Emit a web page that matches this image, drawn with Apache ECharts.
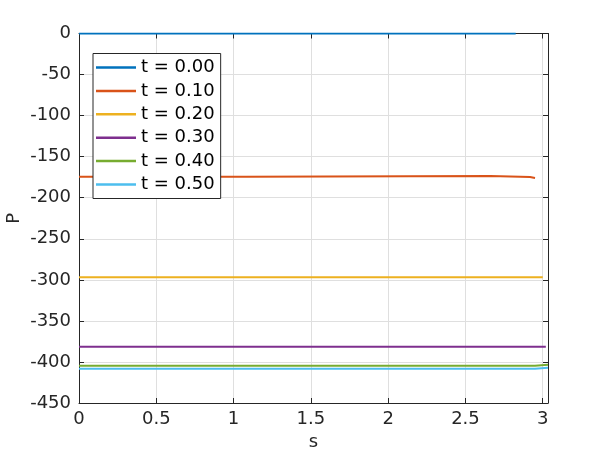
<!DOCTYPE html>
<html>
<head>
<meta charset="utf-8">
<script src="https://cdn.jsdelivr.net/npm/echarts@6/dist/echarts.min.js"></script>
<style>
  html, body { margin: 0; padding: 0; background: #fff; }
  #chart { width: 605px; height: 454px; }
</style>
</head>
<body>
<div id="chart"></div>
<script>
  // series names (legend)
  const names = ['t = 0.00', 't = 0.10', 't = 0.20', 't = 0.30', 't = 0.40', 't = 0.50'];
  const colors = ['#0072BD', '#D95319', '#EDB120', '#7E2F8E', '#77AC30', '#4DBEEE'];

  // s / P values, one pair of arrays per curve
  const s0 = [0, 2.825];
  const p0 = [0, 0];
  const s1 = [0, 1.082, 1.082, 2.66, 2.66, 2.918, 2.918, 2.95];
  const p1 = [-174.4, -174.4, -173.5, -173.5, -174.8, -174.8, -176.0, -176.0];
  const s2 = [0, 3.0];
  const p2 = [-297, -297];
  const s3 = [0, 3.02];
  const p3 = [-381.5, -381.5];
  const s4 = [0, 2.95, 2.95, 3.034];
  const p4 = [-404.6, -404.6, -403.4, -403.4];
  const s5 = [0, 2.95, 2.95, 3.034];
  const p5 = [-408.2, -408.2, -407.0, -407.0];

  const xTicks = [0, 0.5, 1, 1.5, 2, 2.5, 3];
  const xMax = 3.034;
  const yMin = -450, yMax = 0, yStep = 50;

  const allS = [s0, s1, s2, s3, s4, s5];
  const allP = [p0, p1, p2, p3, p4, p5];

  function pairs(s, p) {
    return s.map((v, i) => [v, p[i]]);
  }

  const font = 'DejaVu Sans';
  const axisCol = '#262626';

  const chart = echarts.init(document.getElementById('chart'));

  const tickFmt = (v) => {
    for (let i = 0; i < xTicks.length; i++) {
      if (Math.abs(v - xTicks[i]) < 1e-6) return String(xTicks[i]);
    }
    return '';
  };

  const baseX = {
    type: 'value',
    min: 0,
    max: xMax,
    interval: 0.5,
    axisLine: { show: true, onZero: false, lineStyle: { color: axisCol, width: 1 } },
    axisTick: { show: true, inside: true, length: 5, lineStyle: { color: axisCol } },
    splitLine: { show: true, lineStyle: { color: '#dfdfdf', width: 1 } },
  };
  const baseY = {
    type: 'value',
    min: yMin,
    max: yMax,
    interval: yStep,
    axisLine: { show: true, onZero: false, lineStyle: { color: axisCol, width: 1 } },
    axisTick: { show: true, inside: true, length: 5, lineStyle: { color: axisCol } },
    splitLine: { show: true, lineStyle: { color: '#dfdfdf', width: 1 } },
  };

  const option = {
    animation: false,
    backgroundColor: '#fff',
    textStyle: { fontFamily: font },
    grid: { left: 79, right: 57, top: 33.5, bottom: 51, containLabel: false, outerBoundsMode: 'none' },
    legend: {
      data: names,
      orient: 'vertical',
      left: 93,
      top: 53.5,
      icon: 'rect',
      itemWidth: 40,
      itemHeight: 2.5,
      itemGap: 3.4,
      padding: [4, 6, 4, 3],
      backgroundColor: '#fff',
      borderColor: axisCol,
      borderWidth: 1,
      borderRadius: 0,
      z: 10,
      textStyle: { fontFamily: font, fontSize: 18, color: '#000', lineHeight: 20 },
    },
    xAxis: [
      Object.assign({}, baseX, {
        position: 'bottom',
        name: 's',
        nameLocation: 'middle',
        nameGap: 30,
        nameMoveOverlap: false,
        nameTextStyle: { fontFamily: font, fontSize: 18, color: axisCol },
        axisLabel: { show: true, margin: 7, fontFamily: font, fontSize: 18, color: axisCol, formatter: tickFmt },
      }),
      Object.assign({}, baseX, {
        position: 'top',
        splitLine: { show: false },
        axisLabel: { show: false },
      }),
    ],
    yAxis: [
      Object.assign({}, baseY, {
        position: 'left',
        name: 'P',
        nameLocation: 'middle',
        nameGap: 65,
        nameRotate: 90,
        nameMoveOverlap: false,
        nameTextStyle: { fontFamily: font, fontSize: 18, color: axisCol, verticalAlign: 'middle' },
        axisLabel: { show: true, margin: 8, fontFamily: font, fontSize: 18, color: axisCol },
      }),
      Object.assign({}, baseY, {
        position: 'right',
        splitLine: { show: false },
        axisLabel: { show: false },
      }),
    ],
    series: names.map((n, i) => ({
      name: n,
      type: 'line',
      xAxisIndex: 0,
      yAxisIndex: 0,
      data: pairs(allS[i], allP[i]),
      showSymbol: false,
      symbol: 'none',
      color: colors[i],
      lineStyle: { color: colors[i], width: 2 },
      z: 3,
    })),
  };

  chart.setOption(option);
</script>
</body>
</html>
